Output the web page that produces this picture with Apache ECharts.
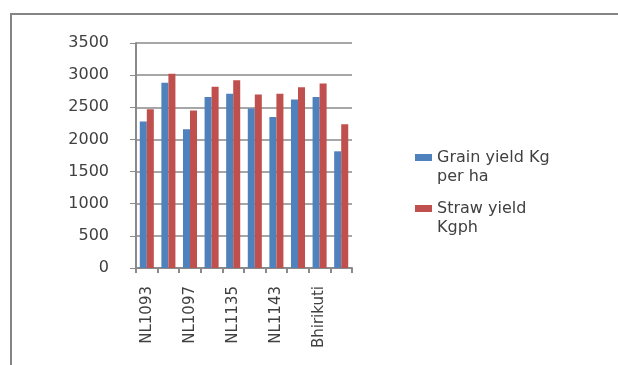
<!DOCTYPE html>
<html>
<head>
<meta charset="utf-8">
<script src="https://cdn.jsdelivr.net/npm/echarts@6/dist/echarts.min.js"></script>
<style>
  html, body { margin: 0; padding: 0; background: #fff; }
  #chart { width: 618px; height: 365px; }
</style>
</head>
<body>
<div id="chart"></div>
<script>
// Rice varieties (only every second name is printed on the axis)
const categories = ['NL1093', 'NL1094', 'NL1097', 'NL1120', 'NL1135', 'NL1140', 'NL1143', 'NL1145', 'Bhirikuti', 'Local check'];
// Yields per variety
const grainYield = [2280, 2880, 2160, 2660, 2710, 2480, 2350, 2620, 2660, 1815];
const strawYield = [2470, 3020, 2450, 2820, 2920, 2700, 2710, 2810, 2870, 2235];
// Value axis range and step
const yMin = 0;
const yMax = 3500;
const yStep = 500;

const seriesNames = ['Grain yield Kg\nper ha', 'Straw yield\nKgph'];
const textColor = '#404040';
const lineColor = '#8a8a8a';
const fontFamily = "'DejaVu Sans', sans-serif";

const chart = echarts.init(document.getElementById('chart'));
chart.setOption({
  backgroundColor: '#ffffff',
  animation: false,
  graphic: [{
    type: 'polyline',
    silent: true,
    shape: { points: [[11, 365], [11, 14], [618, 14]] },
    style: { stroke: '#858585', lineWidth: 2, fill: null }
  }],
  grid: { left: 136, right: 266, top: 43, bottom: 97, containLabel: false },
  legend: {
    orient: 'vertical',
    left: 415,
    top: 148,
    padding: 0,
    itemGap: 13,
    itemWidth: 17,
    itemHeight: 26,
    // swatch sits at the top of the item box so it lines up with the first text line
    icon: 'path://M0,0H17V7H0Z M0,26H17',
    textStyle: { fontFamily: fontFamily, fontSize: 16, color: textColor, lineHeight: 19 },
    data: seriesNames
  },
  xAxis: {
    type: 'category',
    data: categories,
    axisLine: { lineStyle: { color: lineColor, width: 2 } },
    axisTick: { show: true, interval: 0, length: 5, inside: false, lineStyle: { color: lineColor, width: 2 } },
    axisLabel: {
      interval: 1,
      rotate: 90,
      margin: 18,
      fontFamily: fontFamily,
      fontSize: 15,
      color: textColor
    },
    splitLine: { show: false }
  },
  yAxis: {
    type: 'value',
    min: yMin,
    max: yMax,
    interval: yStep,
    axisLine: { show: true, lineStyle: { color: lineColor, width: 2 } },
    axisTick: { show: true, length: 6, lineStyle: { color: lineColor, width: 1 } },
    axisLabel: {
      margin: 27,
      fontFamily: fontFamily,
      fontSize: 16,
      color: textColor,
      formatter: function (v) { return String(v); }
    },
    splitLine: { show: true, lineStyle: { color: lineColor, width: 1.5 } }
  },
  series: [
    {
      name: seriesNames[0],
      type: 'bar',
      data: grainYield,
      barGap: '0%',
      barCategoryGap: '35%',
      itemStyle: { color: '#4f81bd' }
    },
    {
      name: seriesNames[1],
      type: 'bar',
      data: strawYield,
      barGap: '0%',
      barCategoryGap: '35%',
      itemStyle: { color: '#c0504d' }
    }
  ]
});
</script>
</body>
</html>
